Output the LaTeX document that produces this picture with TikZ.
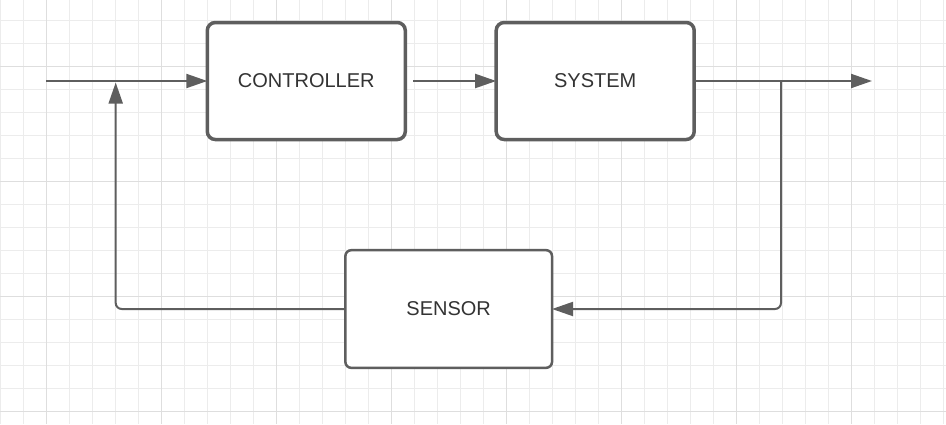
\documentclass[tikz,border=0pt]{standalone}
\usepackage{fontspec}
\setmainfont{Liberation Sans}
\usetikzlibrary{arrows.meta}
\definecolor{linegray}{RGB}{94,94,94}
\definecolor{textgray}{RGB}{51,51,51}
\definecolor{gridminor}{RGB}{236,236,236}
\definecolor{gridmajor}{RGB}{222,222,222}
\tikzset{
  block/.style={draw=linegray, fill=white, rectangle, rounded corners=8pt, line width=3.5pt,
    minimum width=198pt, minimum height=117pt, inner sep=0pt, outer sep=0pt,
    text=textgray, font=\fontsize{20}{24}\selectfont},
  sensorbox/.style={block, line width=2.5pt, rounded corners=6pt,
    minimum width=206.7pt, minimum height=117.7pt},
  conn/.style={draw=linegray, line width=2pt},
  arr/.style={conn, -{Triangle[length=21pt,width=14pt]}},
}
\begin{document}
\begin{tikzpicture}[x=1pt,y=-1pt]
\useasboundingbox (0,0) rectangle (946,424);
\fill[white] (0,0) rectangle (946,424);
% grid
\foreach \i in {0,...,41} {\draw[gridminor,line width=1pt] ({0.7+23*\i},0) -- ({0.7+23*\i},424);}
\foreach \j in {0,...,17} {\draw[gridminor,line width=1pt] (0,{20.7+23*\j}) -- (946,{20.7+23*\j});}
\foreach \i in {0,...,7} {\draw[gridmajor,line width=1pt] ({46.7+115*\i},0) -- ({46.7+115*\i},424);}
\foreach \j in {0,...,3} {\draw[gridmajor,line width=1pt] (0,{66.7+115*\j}) -- (946,{66.7+115*\j});}
% blocks
\node[block] (ctrl) at (306.3,81) {CONTROLLER};
\node[block] (sys) at (595.2,81) {SYSTEM};
\node[sensorbox] (sens) at (448.7,309) {SENSOR};
% coordinates
\coordinate (in) at (46,81);
\coordinate (out) at (872,81);
\coordinate (branch) at (781,81);
\coordinate (sum) at (115.7,82.5);
% connectors
\draw[arr] (in) -- (ctrl.west);
\draw[arr] ([xshift=8pt]ctrl.east) -- (sys.west);
\draw[arr] (sys.east) -- (out);
\draw[arr, rounded corners=6pt] (branch) |- (sens.east);
\draw[arr, rounded corners=6pt] (sens.west) -| (sum);
\end{tikzpicture}
\end{document}
